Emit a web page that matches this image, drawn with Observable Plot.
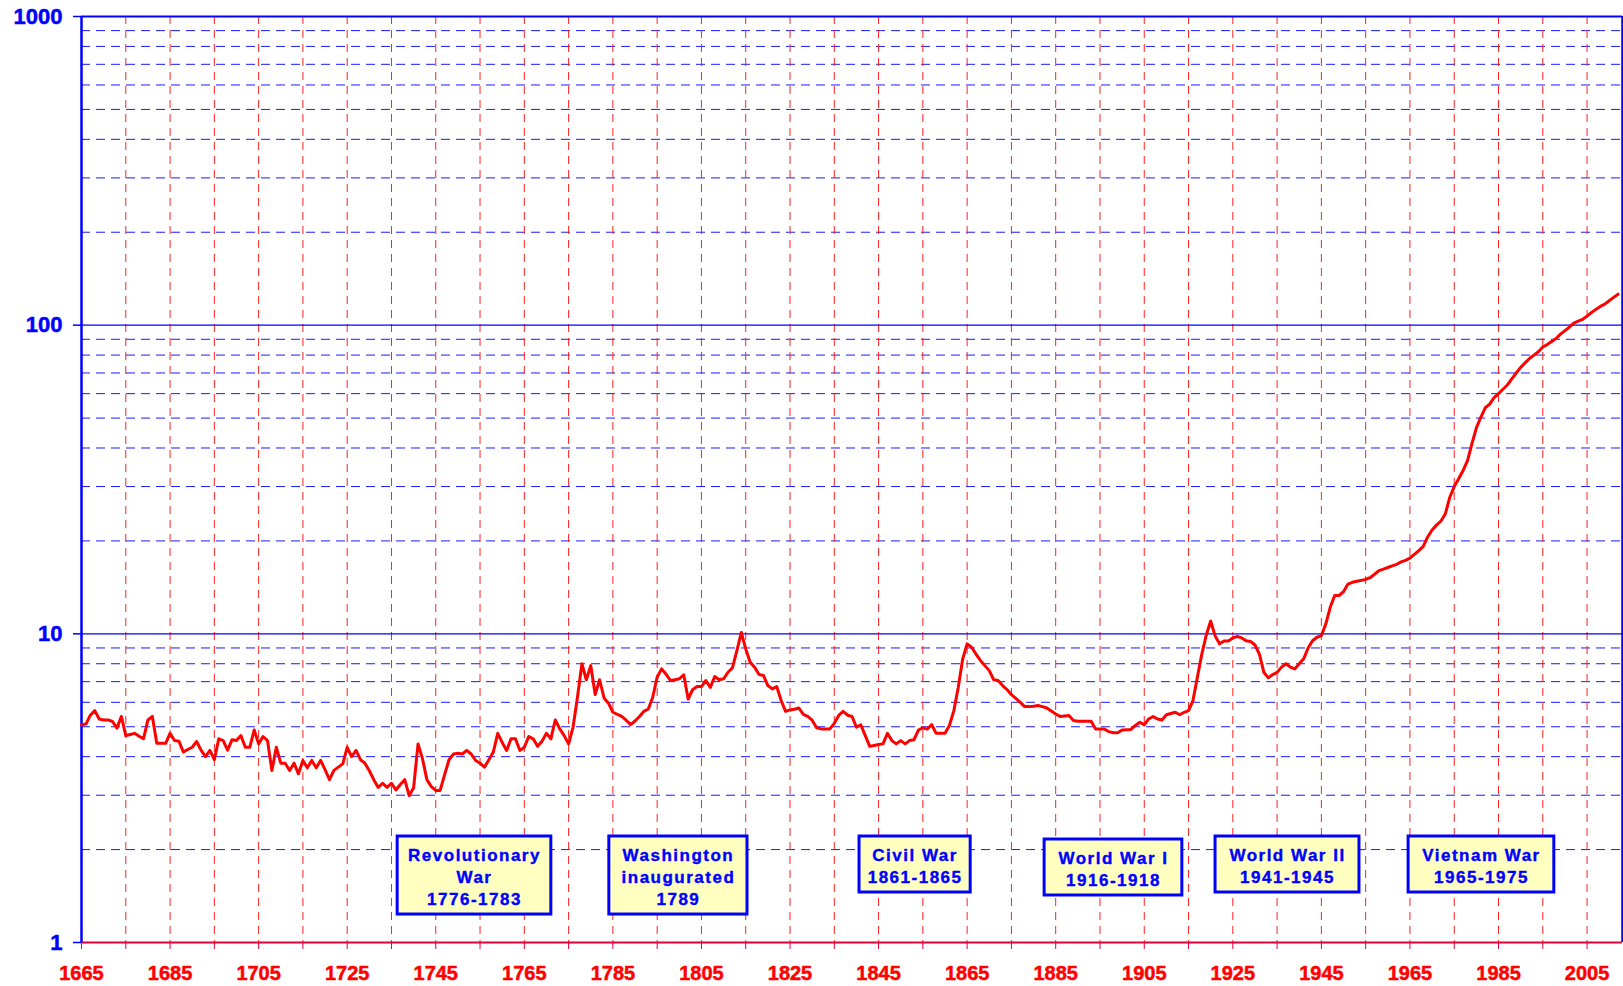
<!DOCTYPE html>
<html><head><meta charset="utf-8">
<script src="https://cdn.jsdelivr.net/npm/d3@7"></script>
<script src="https://cdn.jsdelivr.net/npm/@observablehq/plot@0.6"></script>
<style>
html,body{margin:0;padding:0;background:#fff;}
#chart svg{display:block;}
g[aria-description="ann"] text{letter-spacing:1.5px;}
</style></head><body><div id="chart"></div>
<script>
// ---- data ----
const startYear = 1665;
const values = [
  5.07, 5.1, 5.45, 5.64, 5.3, 5.26, 5.26, 5.2, 4.95, 5.40,
  4.68, 4.72, 4.76, 4.66, 4.57, 5.26, 5.40, 4.42, 4.42, 4.42,
  4.76, 4.51, 4.49, 4.14, 4.22, 4.29, 4.48, 4.2, 4.00, 4.19,
  3.91, 4.57, 4.51, 4.20, 4.54, 4.51, 4.68, 4.29, 4.29, 4.88,
  4.40, 4.65, 4.51, 3.61, 4.29, 3.81, 3.81, 3.61, 3.81, 3.52,
  3.89, 3.68, 3.89, 3.68, 3.89, 3.63, 3.37, 3.61, 3.70, 3.79,
  4.29, 4.00, 4.19, 3.91, 3.81, 3.6, 3.37, 3.18, 3.28, 3.18,
  3.28, 3.12, 3.25, 3.37, 2.99, 3.17, 4.40, 3.94, 3.37, 3.20,
  3.11, 3.11, 3.5, 3.91, 4.08, 4.10, 4.08, 4.19, 4.08, 3.89,
  3.81, 3.70, 3.91, 4.14, 4.76, 4.45, 4.19, 4.57, 4.57, 4.19,
  4.29, 4.65, 4.57, 4.32, 4.49, 4.76, 4.57, 5.26, 4.92, 4.68,
  4.40, 4.98, 6.23, 8.0, 7.10, 7.89, 6.36, 7.10, 6.20, 5.96,
  5.57, 5.48, 5.40, 5.25, 5.08, 5.22, 5.40, 5.61, 5.71, 6.23,
  7.24, 7.70, 7.4, 7.06, 7.1, 7.15, 7.37, 6.15, 6.59, 6.75,
  6.75, 7.06, 6.71, 7.27, 7.10, 7.15, 7.51, 7.76, 8.83, 10.1,
  8.94, 8.09, 7.8, 7.38, 7.33, 6.80, 6.63, 6.75, 6.08, 5.61,
  5.67, 5.7, 5.75, 5.48, 5.4, 5.25, 4.96, 4.92, 4.92, 4.92,
  5.13, 5.44, 5.61, 5.45, 5.40, 4.98, 5.07, 4.68, 4.32, 4.35,
  4.38, 4.40, 4.76, 4.51, 4.40, 4.51, 4.40, 4.51, 4.54, 4.88,
  4.96, 4.91, 5.08, 4.76, 4.76, 4.76, 5.05, 5.64, 6.71, 8.30,
  9.28, 9.05, 8.6, 8.2, 7.89, 7.6, 7.10, 7.06, 6.8, 6.6,
  6.35, 6.18, 6.0, 5.81, 5.81, 5.83, 5.86, 5.81, 5.75, 5.62,
  5.5, 5.40, 5.42, 5.44, 5.24, 5.21, 5.21, 5.21, 5.21, 4.92,
  4.92, 4.92, 4.82, 4.78, 4.78, 4.88, 4.89, 4.90, 5.05, 5.17,
  5.07, 5.3, 5.40, 5.3, 5.26, 5.47, 5.52, 5.57, 5.47, 5.57,
  5.64, 6.08, 7.24, 8.6, 9.9, 11.0, 9.85, 9.28, 9.48, 9.48,
  9.7, 9.8, 9.7, 9.5, 9.45, 9.2, 8.6, 7.51, 7.20, 7.38,
  7.5, 7.8, 8.00, 7.80, 7.70, 8.00, 8.3, 9.0, 9.5, 9.75,
  9.87, 10.77, 12.19, 13.31, 13.31, 13.7, 14.5, 14.69, 14.8, 14.9,
  15.0, 15.2, 15.6, 16.03, 16.2, 16.4, 16.6, 16.8, 17.1, 17.3,
  17.6, 18.1, 18.6, 19.2, 20.6, 21.7, 22.5, 23.2, 24.5, 27.7,
  30.0, 31.8, 33.8, 36.4, 41.3, 46.5, 50.3, 54.0, 55.5, 58.2,
  60.0, 62.0, 64.0, 67.0, 70.0, 73.0, 75.5, 78.0, 80.0, 82.0,
  85.0, 86.5, 88.5, 90.5, 93.5, 96.0, 98.5, 101.5, 103, 104.5,
  107, 110, 112.5, 115, 117, 120, 123, 126
];
const xLabelYears = [1665,1685,1705,1725,1745,1765,1785,1805,1825,1845,1865,1885,1905,1925,1945,1965,1985,2005];
const xGridYears = [1675,1685,1695,1705,1715,1725,1735,1745,1755,1765,1775,1785,1795,1805,1815,1825,1835,1845,1855,1865,1875,1885,1895,1905,1915,1925,1935,1945,1955,1965,1975,1985,1995,2005];
const yTickValues = [1, 10, 100, 1000];
const yTickLabels = ["1", "10", "100", "1000"];
const yMajorGrid = [10, 100];
const yMinorGrid = [2,3,4,5,6,7,8,9,20,30,40,50,60,70,80,90,200,300,400,500,600,700,800,900];
const annLabels = [
  "Revolutionary\nWar\n1776-1783",
  "Washington\ninaugurated\n1789",
  "Civil War\n1861-1865",
  "World War I\n1916-1918",
  "World War II\n1941-1945",
  "Vietnam War\n1965-1975"
];
// ---- layout (annotation box extents, in data space) ----
const annBoxes = [
  {x1: 1736.4, x2: 1771.1, y1: 1.232, y2: 2.205},
  {x1: 1784.2, x2: 1815.4, y1: 1.232, y2: 2.205},
  {x1: 1840.7, x2: 1865.8, y1: 1.452, y2: 2.205},
  {x1: 1882.5, x2: 1913.6, y1: 1.420, y2: 2.156},
  {x1: 1921.1, x2: 1953.6, y1: 1.452, y2: 2.205},
  {x1: 1964.7, x2: 1997.6, y1: 1.452, y2: 2.205}
];

const series = values.map((v, i) => ({year: startYear + i, value: v}));
const ann = annLabels.map((t, i) => ({text: t, ...annBoxes[i]}));
const xTickYears = [1665, ...xGridYears];

const BLUE = "#0000ff", RED = "#ff0000";

const chart = Plot.plot({
  width: 1623,
  height: 986,
  marginLeft: 81,
  marginRight: 1,
  marginTop: 16,
  marginBottom: 44,
  style: {fontFamily: "'Liberation Sans', Arial, sans-serif", background: "white"},
  x: {domain: [1665, 2013], axis: null},
  y: {type: "log", domain: [1, 1000], axis: null},
  marks: [
    Plot.ruleY(yMinorGrid, {y: d => d, stroke: "#1a1aff", strokeWidth: 1, strokeDasharray: "9,6"}),
    Plot.ruleX(xGridYears, {x: d => d, stroke: "#ff2020", strokeWidth: 1, strokeDasharray: "8,6"}),
    Plot.ruleY(yMajorGrid, {y: d => d, stroke: BLUE, strokeWidth: 1.2}),
    Plot.ruleY([1000], {y: d => d, stroke: BLUE, strokeWidth: 2}),
    Plot.ruleX([2013], {x: d => d, stroke: BLUE, strokeWidth: 2.5}),
    Plot.ruleX([1665], {x: d => d, stroke: BLUE, strokeWidth: 2.5}),
    Plot.ruleY([1], {y: d => d, stroke: "#e0003a", strokeWidth: 2}),
    // tick marks
    Plot.ruleX(xTickYears, {x: d => d, y1: () => 1, y2: () => 1, insetBottom: -7, stroke: "#e0003a", strokeWidth: 1}),
    Plot.ruleY(yTickValues, {y: d => d, x1: () => 1665, x2: () => 1665, insetLeft: -8, stroke: BLUE, strokeWidth: 1.5}),
    // tick labels
    Plot.text(xLabelYears, {x: d => d, y: () => 1, text: d => String(d), dy: 31, fill: RED, stroke: RED, strokeWidth: 0.5, fontSize: 20, fontWeight: "bold", textAnchor: "middle", lineAnchor: "middle"}),
    Plot.text(yTickValues, {x: () => 1665, y: d => d, text: (d, i) => yTickLabels[i], dx: -19, fill: BLUE, stroke: BLUE, strokeWidth: 0.5, fontSize: 22, fontWeight: "bold", textAnchor: "end", lineAnchor: "middle"}),
    // series
    Plot.line(series, {x: "year", y: "value", stroke: RED, strokeWidth: 3, strokeLinejoin: "round", strokeLinecap: "round"}),
    // annotations
    Plot.rect(ann, {x1: "x1", x2: "x2", y1: "y1", y2: "y2", fill: "#ffffc0", stroke: BLUE, strokeWidth: 3}),
    Plot.text(ann, {x: d => (d.x1 + d.x2) / 2, y: d => Math.sqrt(d.y1 * d.y2), text: "text", fill: BLUE, stroke: BLUE, strokeWidth: 0.4, fontSize: 17, fontWeight: "bold", lineHeight: 1.3, textAnchor: "middle", lineAnchor: "middle", ariaDescription: "ann"})
  ]
});
document.getElementById("chart").appendChild(chart);
</script>
</body></html>
